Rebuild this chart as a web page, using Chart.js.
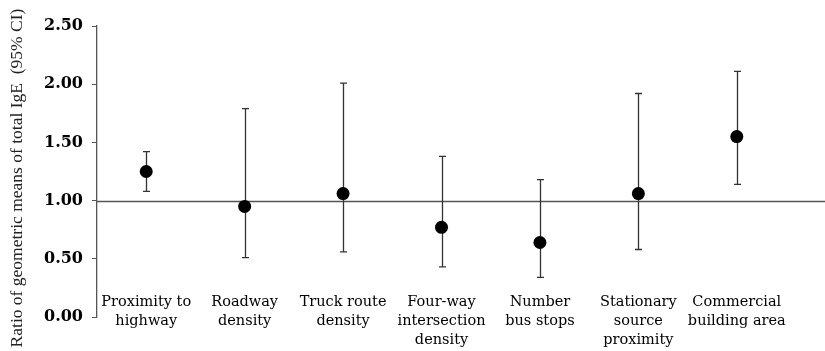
<!DOCTYPE html>
<html>
<head>
<meta charset="utf-8">
<script src="https://cdn.jsdelivr.net/npm/chart.js@4"></script>
<style>
  body { margin: 0; background: #fff; }
  canvas { display: block; }
</style>
</head>
<body>
<canvas id="chart_ige" width="825" height="351"></canvas>
<script>
// ratio of geometric means with 95% CI
var categories = [
	["Proximity to", "highway"],
	["Roadway", "density"],
	["Truck route", "density"],
	["Four-way", "intersection", "density"],
	["Number", "bus stops"],
	["Stationary", "source", "proximity"],
	["Commercial", "building area"]
];
var ratio = [1.25, 0.95, 1.06, 0.77, 0.64, 1.06, 1.55];
var ci_low = [1.08, 0.51, 0.56, 0.43, 0.34, 0.58, 1.14];
var ci_high = [1.42, 1.79, 2.01, 1.38, 1.18, 1.92, 2.11];
var y_ticks = [0, 0.5, 1, 1.5, 2, 2.5];

var serif = "'Liberation Serif', 'DejaVu Serif', serif";
var wideSerif = "'DejaVu Serif', 'Liberation Serif', serif";

// reference line at 1.00 and the CI whiskers, drawn under the points
var errorBars = {
	id: 'errorBars',
	beforeDatasetsDraw: function(chart) {
		var ctx = chart.ctx;
		var xs = chart.scales.x, ys = chart.scales.y;
		var area = chart.chartArea;
		ctx.save();
		ctx.strokeStyle = '#555';
		ctx.lineWidth = 1.5;
		var y1 = Math.round(ys.getPixelForValue(1)) + 0.5;
		ctx.beginPath();
		ctx.moveTo(area.left, y1);
		ctx.lineTo(chart.width, y1);
		ctx.stroke();

		ctx.strokeStyle = '#333';
		ctx.lineWidth = 1.3;
		for (var i = 0; i < ratio.length; i++) {
			var x = Math.round(xs.getPixelForValue(i)) + 0.5;
			var top = ys.getPixelForValue(ci_high[i]);
			var bot = ys.getPixelForValue(ci_low[i]);
			ctx.beginPath();
			ctx.moveTo(x, top); ctx.lineTo(x, bot);
			ctx.moveTo(x - 3.5, top); ctx.lineTo(x + 3.5, top);
			ctx.moveTo(x - 3.5, bot); ctx.lineTo(x + 3.5, bot);
			ctx.stroke();
		}
		ctx.restore();
	}
};

var ctx = document.getElementById('chart_ige').getContext('2d');
var chart = new Chart(ctx, {
	type: 'line',
	data: {
		labels: categories,
		datasets: [{
			label: 'Ratio',
			data: ratio,
			showLine: false,
			pointRadius: 6.5,
			pointHoverRadius: 6.5,
			backgroundColor: '#000',
			borderColor: '#000',
			borderWidth: 0
		}]
	},
	options: {
		responsive: false,
		animation: false,
		layout: { padding: { top: 26, right: 39, left: 0, bottom: 0 } },
		plugins: {
			legend: { display: false },
			tooltip: { enabled: false }
		},
		scales: {
			x: {
				type: 'category',
				offset: true,
				grid: { display: false },
				border: { display: false },
				ticks: {
					color: '#000',
					autoSkip: false,
					maxRotation: 0,
					mirror: true,
					padding: 5.5,
					font: { family: wideSerif, size: 14.5, lineHeight: 1.31 }
				},
				afterFit: function(scale) { scale.height = 34; }
			},
			y: {
				min: 0,
				max: 2.5,
				afterBuildTicks: function(scale) {
					scale.ticks = y_ticks.map(function(v) { return { value: v }; });
				},
				grid: { drawOnChartArea: false, drawTicks: true, tickLength: 5, color: '#555' },
				border: { display: true, color: '#555', width: 1.3 },
				ticks: {
					color: '#000',
					padding: 9,
					font: { family: wideSerif, size: 16, weight: 'bold' },
					callback: function(v) { return Number(v).toFixed(2); }
				},
				title: {
					display: true,
					text: 'Ratio of geometric means of total IgE  (95% CI)   ',
					color: '#222',
					font: { family: serif, size: 17.5 },
					padding: { top: 7, bottom: 0 }
				},
				afterFit: function(scale) { scale.width = 97; }
			}
		}
	},
	plugins: [errorBars]
});
</script>
</body>
</html>
